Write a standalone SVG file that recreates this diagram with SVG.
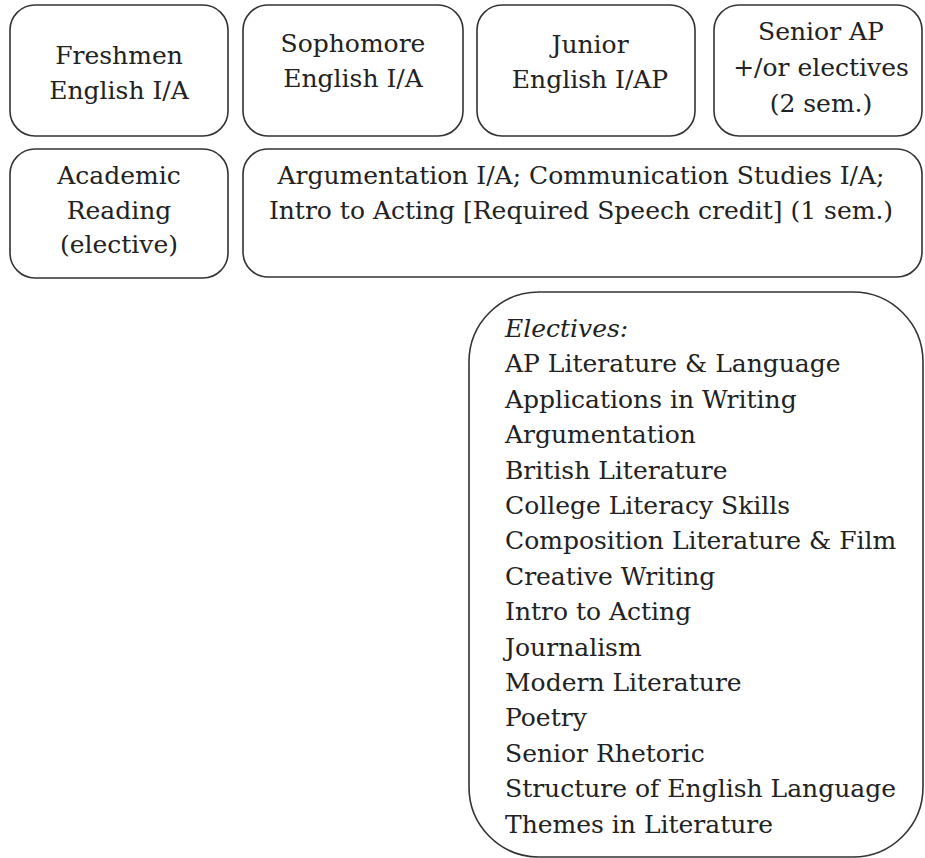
<svg xmlns="http://www.w3.org/2000/svg" width="925" height="858" viewBox="0 0 925 858">
<style>
.box{fill:#fff;stroke:#333;stroke-width:1.6}
.t{font-family:"DejaVu Serif","Liberation Serif",serif;font-size:25px;fill:#222}
.c{text-anchor:middle}
</style>
<rect width="925" height="858" fill="#fff"/>
<g id="freshmen"><rect class="box" x="10" y="5" width="218" height="131" rx="25"/>
<text class="t c" x="119" y="64">Freshmen</text><text class="t c" x="119" y="99">English I/A</text></g>
<g id="sophomore"><rect class="box" x="243" y="5" width="220" height="131" rx="25"/>
<text class="t c" x="353" y="52">Sophomore</text><text class="t c" x="353" y="87">English I/A</text></g>
<g id="junior"><rect class="box" x="477" y="5" width="218" height="131" rx="25"/>
<text class="t c" x="590" y="53">Junior</text><text class="t c" x="590" y="88">English I/AP</text></g>
<g id="senior"><rect class="box" x="714" y="5" width="208" height="131" rx="25"/>
<text class="t c" x="821" y="40">Senior AP</text><text class="t c" x="821" y="76">+/or electives</text><text class="t c" x="821" y="112">(2 sem.)</text></g>
<g id="academic"><rect class="box" x="10" y="149" width="218" height="129" rx="25"/>
<text class="t c" x="119" y="184">Academic</text><text class="t c" x="119" y="219">Reading</text><text class="t c" x="119" y="253">(elective)</text></g>
<g id="speech"><rect class="box" x="243" y="149" width="679" height="128" rx="25"/>
<text class="t c" x="581" y="184">Argumentation I/A; Communication Studies I/A;</text><text class="t c" x="581" y="219">Intro to Acting [Required Speech credit] (1 sem.)</text></g>
<g id="electives"><rect class="box" x="469" y="292" width="454" height="565" rx="70"/>
<text class="t" x="505"><tspan x="505" y="337" font-style="italic">Electives:</tspan><tspan x="505" y="372.4">AP Literature &amp; Language</tspan><tspan x="505" y="407.8">Applications in Writing</tspan><tspan x="505" y="443.2">Argumentation</tspan><tspan x="505" y="478.6">British Literature</tspan><tspan x="505" y="514">College Literacy Skills</tspan><tspan x="505" y="549.4">Composition Literature &amp; Film</tspan><tspan x="505" y="584.8">Creative Writing</tspan><tspan x="505" y="620.2">Intro to Acting</tspan><tspan x="505" y="655.6">Journalism</tspan><tspan x="505" y="691">Modern Literature</tspan><tspan x="505" y="726.4">Poetry</tspan><tspan x="505" y="761.8">Senior Rhetoric</tspan><tspan x="505" y="797.2">Structure of English Language</tspan><tspan x="505" y="832.6">Themes in Literature</tspan></text></g>
<g id="connectors"/>
</svg>
